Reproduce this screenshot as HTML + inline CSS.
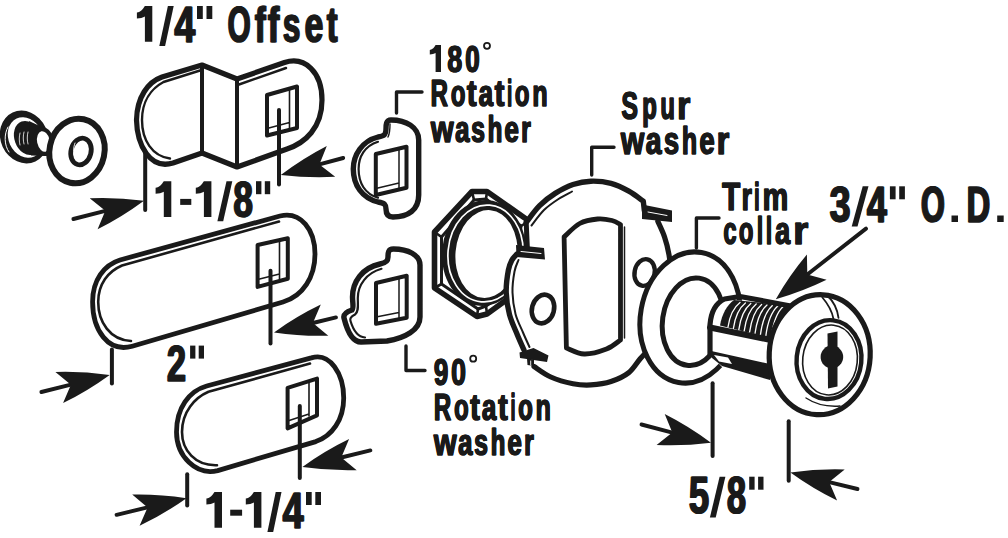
<!DOCTYPE html>
<html><head><meta charset="utf-8"><style>
html,body{margin:0;padding:0;background:#fff;width:1008px;height:538px;overflow:hidden}
svg{display:block}
svg *{fill:none;stroke:#1a1a1a;stroke-linecap:round;stroke-linejoin:round}
svg .f{fill:#1a1a1a;stroke:none}
svg text{fill:#1a1a1a;font-family:"Liberation Sans",sans-serif;font-weight:bold}
</style></head><body>
<svg width="1008" height="538" viewBox="0 0 1008 538">
<path class="f" d="M144.9,6.0 L152.3,6.0 L152.3,41.7 L144.9,41.7 L144.9,16.5 C142.9,17.5 139.9,18.5 136.9,18.5 L136.9,12.5 C140.9,12.0 142.9,9.0 144.9,6.0 Z"/>
<path class="f" d="M167.9,6.0 L173.7,6.0 L165.1,46.1 L159.3,46.1 Z"/>
<text transform="translate(174.00,41.7) scale(0.7451,1)" font-size="50.3" style="stroke:#1a1a1a;stroke-width:1.0px;vector-effect:non-scaling-stroke">4</text>
<text transform="translate(174.80,41.7) scale(0.7451,1)" font-size="50.3" style="stroke:#1a1a1a;stroke-width:1.0px;vector-effect:non-scaling-stroke">4</text>
<path class="f" d="M197.0,6.0 H202.8 V19.0 H197.0 Z"/>
<path class="f" d="M206.5,6.0 H212.3 V19.0 H206.5 Z"/>
<text transform="translate(227.30,41.7) scale(0.5881,1)" font-size="50.3" style="stroke:#1a1a1a;stroke-width:1.0px;vector-effect:non-scaling-stroke">O</text>
<text transform="translate(228.10,41.7) scale(0.5881,1)" font-size="50.3" style="stroke:#1a1a1a;stroke-width:1.0px;vector-effect:non-scaling-stroke">O</text>
<text transform="translate(254.60,41.7) scale(0.6291,1)" font-size="50.3" style="stroke:#1a1a1a;stroke-width:1.0px;vector-effect:non-scaling-stroke">f</text>
<text transform="translate(255.40,41.7) scale(0.6291,1)" font-size="50.3" style="stroke:#1a1a1a;stroke-width:1.0px;vector-effect:non-scaling-stroke">f</text>
<text transform="translate(267.60,41.7) scale(0.6647,1)" font-size="50.3" style="stroke:#1a1a1a;stroke-width:1.0px;vector-effect:non-scaling-stroke">f</text>
<text transform="translate(268.40,41.7) scale(0.6647,1)" font-size="50.3" style="stroke:#1a1a1a;stroke-width:1.0px;vector-effect:non-scaling-stroke">f</text>
<text transform="translate(282.50,41.7) scale(0.6233,1)" font-size="50.3" style="stroke:#1a1a1a;stroke-width:1.0px;vector-effect:non-scaling-stroke">s</text>
<text transform="translate(283.30,41.7) scale(0.6233,1)" font-size="50.3" style="stroke:#1a1a1a;stroke-width:1.0px;vector-effect:non-scaling-stroke">s</text>
<text transform="translate(304.20,41.7) scale(0.6663,1)" font-size="50.3" style="stroke:#1a1a1a;stroke-width:1.0px;vector-effect:non-scaling-stroke">e</text>
<text transform="translate(305.00,41.7) scale(0.6663,1)" font-size="50.3" style="stroke:#1a1a1a;stroke-width:1.0px;vector-effect:non-scaling-stroke">e</text>
<text transform="translate(326.50,41.7) scale(0.6338,1)" font-size="50.3" style="stroke:#1a1a1a;stroke-width:1.0px;vector-effect:non-scaling-stroke">t</text>
<text transform="translate(327.30,41.7) scale(0.6338,1)" font-size="50.3" style="stroke:#1a1a1a;stroke-width:1.0px;vector-effect:non-scaling-stroke">t</text>
<path class="f" d="M163.8,181.2 L171.3,181.2 L171.3,216.9 L163.8,216.9 L163.8,191.7 C161.8,192.7 158.6,193.7 155.6,193.7 L155.6,187.7 C159.6,187.2 161.8,184.2 163.8,181.2 Z"/>
<path class="f" d="M180.2,198.9 H191.3 V204.9 H180.2 Z"/>
<path class="f" d="M203.9,181.2 L211.4,181.2 L211.4,216.9 L203.9,216.9 L203.9,191.7 C201.9,192.7 198.8,193.7 195.8,193.7 L195.8,187.7 C199.8,187.2 201.9,184.2 203.9,181.2 Z"/>
<path class="f" d="M226.5,181.2 L232.3,181.2 L223.2,221.3 L217.4,221.3 Z"/>
<text transform="translate(232.90,216.9) scale(0.6985,1)" font-size="50.3" style="stroke:#1a1a1a;stroke-width:1.0px;vector-effect:non-scaling-stroke">8</text>
<text transform="translate(233.70,216.9) scale(0.6985,1)" font-size="50.3" style="stroke:#1a1a1a;stroke-width:1.0px;vector-effect:non-scaling-stroke">8</text>
<path class="f" d="M256.0,181.2 H261.4 V194.2 H256.0 Z"/>
<path class="f" d="M264.8,181.2 H270.2 V194.2 H264.8 Z"/>
<text transform="translate(166.40,381.3) scale(0.6842,1)" font-size="50.3" style="stroke:#1a1a1a;stroke-width:1.0px;vector-effect:non-scaling-stroke">2</text>
<text transform="translate(167.20,381.3) scale(0.6842,1)" font-size="50.3" style="stroke:#1a1a1a;stroke-width:1.0px;vector-effect:non-scaling-stroke">2</text>
<path class="f" d="M190.1,345.6 H195.4 V358.6 H190.1 Z"/>
<path class="f" d="M198.7,345.6 H204.0 V358.6 H198.7 Z"/>
<path class="f" d="M214.5,492.0 L222.0,492.0 L222.0,527.7 L214.5,527.7 L214.5,502.5 C212.5,503.5 209.4,504.5 206.4,504.5 L206.4,498.5 C210.4,498.0 212.5,495.0 214.5,492.0 Z"/>
<path class="f" d="M230.2,509.7 H242.1 V515.7 H230.2 Z"/>
<path class="f" d="M253.9,492.0 L261.4,492.0 L261.4,527.7 L253.9,527.7 L253.9,502.5 C251.9,503.5 248.8,504.5 245.8,504.5 L245.8,498.5 C249.8,498.0 251.9,495.0 253.9,492.0 Z"/>
<path class="f" d="M275.7,492.0 L281.5,492.0 L273.2,532.1 L267.4,532.1 Z"/>
<text transform="translate(282.20,527.7) scale(0.7487,1)" font-size="50.3" style="stroke:#1a1a1a;stroke-width:1.0px;vector-effect:non-scaling-stroke">4</text>
<text transform="translate(283.00,527.7) scale(0.7487,1)" font-size="50.3" style="stroke:#1a1a1a;stroke-width:1.0px;vector-effect:non-scaling-stroke">4</text>
<path class="f" d="M306.0,492.0 H311.7 V505.0 H306.0 Z"/>
<path class="f" d="M315.3,492.0 H321.0 V505.0 H315.3 Z"/>
<text transform="translate(688.40,513.2) scale(0.7067,1)" font-size="51.5" style="stroke:#1a1a1a;stroke-width:1.0px;vector-effect:non-scaling-stroke">5</text>
<text transform="translate(689.20,513.2) scale(0.7067,1)" font-size="51.5" style="stroke:#1a1a1a;stroke-width:1.0px;vector-effect:non-scaling-stroke">5</text>
<path class="f" d="M719.6,476.7 L725.4,476.7 L715.7,517.6 L709.9,517.6 Z"/>
<text transform="translate(726.40,513.2) scale(0.6682,1)" font-size="51.5" style="stroke:#1a1a1a;stroke-width:1.0px;vector-effect:non-scaling-stroke">8</text>
<text transform="translate(727.20,513.2) scale(0.6682,1)" font-size="51.5" style="stroke:#1a1a1a;stroke-width:1.0px;vector-effect:non-scaling-stroke">8</text>
<path class="f" d="M749.2,476.7 H754.6 V489.7 H749.2 Z"/>
<path class="f" d="M758.1,476.7 H763.5 V489.7 H758.1 Z"/>
<text transform="translate(829.20,222) scale(0.7487,1)" font-size="50.3" style="stroke:#1a1a1a;stroke-width:1.0px;vector-effect:non-scaling-stroke">3</text>
<text transform="translate(830.00,222) scale(0.7487,1)" font-size="50.3" style="stroke:#1a1a1a;stroke-width:1.0px;vector-effect:non-scaling-stroke">3</text>
<path class="f" d="M862.7,186.3 L868.5,186.3 L857.5,226.4 L851.7,226.4 Z"/>
<text transform="translate(866.50,222) scale(0.7128,1)" font-size="50.3" style="stroke:#1a1a1a;stroke-width:1.0px;vector-effect:non-scaling-stroke">4</text>
<text transform="translate(867.30,222) scale(0.7128,1)" font-size="50.3" style="stroke:#1a1a1a;stroke-width:1.0px;vector-effect:non-scaling-stroke">4</text>
<path class="f" d="M889.9,186.3 H895.6 V199.3 H889.9 Z"/>
<path class="f" d="M899.2,186.3 H904.9 V199.3 H899.2 Z"/>
<text transform="translate(920.60,222) scale(0.6060,1)" font-size="50.3" style="stroke:#1a1a1a;stroke-width:1.0px;vector-effect:non-scaling-stroke">O</text>
<text transform="translate(921.40,222) scale(0.6060,1)" font-size="50.3" style="stroke:#1a1a1a;stroke-width:1.0px;vector-effect:non-scaling-stroke">O</text>
<path class="f" d="M951.5,215.5 H958.0 V222.0 H951.5 Z"/>
<text transform="translate(966.30,222) scale(0.6494,1)" font-size="50.3" style="stroke:#1a1a1a;stroke-width:1.0px;vector-effect:non-scaling-stroke">D</text>
<text transform="translate(967.10,222) scale(0.6494,1)" font-size="50.3" style="stroke:#1a1a1a;stroke-width:1.0px;vector-effect:non-scaling-stroke">D</text>
<path class="f" d="M997.2,215.5 H1003.7 V222.0 H997.2 Z"/>
<path class="f" d="M435.6,45.1 L441.0,45.1 L441.0,71.9 L435.6,71.9 L435.6,53.0 C434.1,53.7 432.1,54.5 429.8,54.5 L429.8,50.0 C432.8,49.6 434.1,47.3 435.6,45.1 Z"/>
<text transform="translate(447.20,71.9) scale(0.7130,1)" font-size="37.4" style="stroke:#1a1a1a;stroke-width:1.0px;vector-effect:non-scaling-stroke">8</text>
<text transform="translate(447.50,71.9) scale(0.7130,1)" font-size="37.4" style="stroke:#1a1a1a;stroke-width:1.0px;vector-effect:non-scaling-stroke">8</text>
<text transform="translate(465.10,71.9) scale(0.6937,1)" font-size="37.4" style="stroke:#1a1a1a;stroke-width:1.0px;vector-effect:non-scaling-stroke">0</text>
<text transform="translate(465.40,71.9) scale(0.6937,1)" font-size="37.4" style="stroke:#1a1a1a;stroke-width:1.0px;vector-effect:non-scaling-stroke">0</text>
<text transform="translate(433.80,384.6) scale(0.6937,1)" font-size="37.4" style="stroke:#1a1a1a;stroke-width:1.0px;vector-effect:non-scaling-stroke">9</text>
<text transform="translate(434.10,384.6) scale(0.6937,1)" font-size="37.4" style="stroke:#1a1a1a;stroke-width:1.0px;vector-effect:non-scaling-stroke">9</text>
<text transform="translate(450.90,384.6) scale(0.7130,1)" font-size="37.4" style="stroke:#1a1a1a;stroke-width:1.0px;vector-effect:non-scaling-stroke">0</text>
<text transform="translate(451.20,384.6) scale(0.7130,1)" font-size="37.4" style="stroke:#1a1a1a;stroke-width:1.0px;vector-effect:non-scaling-stroke">0</text>
<text transform="translate(430.50,106.4) scale(0.6615,1)" font-size="36.2" style="stroke:#1a1a1a;stroke-width:1.0px;vector-effect:non-scaling-stroke">R</text>
<text transform="translate(430.80,106.4) scale(0.6615,1)" font-size="36.2" style="stroke:#1a1a1a;stroke-width:1.0px;vector-effect:non-scaling-stroke">R</text>
<text transform="translate(450.70,106.4) scale(0.6566,1)" font-size="36.2" style="stroke:#1a1a1a;stroke-width:1.0px;vector-effect:non-scaling-stroke">o</text>
<text transform="translate(451.00,106.4) scale(0.6566,1)" font-size="36.2" style="stroke:#1a1a1a;stroke-width:1.0px;vector-effect:non-scaling-stroke">o</text>
<text transform="translate(466.70,106.4) scale(0.8059,1)" font-size="36.2" style="stroke:#1a1a1a;stroke-width:1.0px;vector-effect:non-scaling-stroke">t</text>
<text transform="translate(467.00,106.4) scale(0.8059,1)" font-size="36.2" style="stroke:#1a1a1a;stroke-width:1.0px;vector-effect:non-scaling-stroke">t</text>
<text transform="translate(478.50,106.4) scale(0.7170,1)" font-size="36.2" style="stroke:#1a1a1a;stroke-width:1.0px;vector-effect:non-scaling-stroke">a</text>
<text transform="translate(478.80,106.4) scale(0.7170,1)" font-size="36.2" style="stroke:#1a1a1a;stroke-width:1.0px;vector-effect:non-scaling-stroke">a</text>
<text transform="translate(494.60,106.4) scale(0.7976,1)" font-size="36.2" style="stroke:#1a1a1a;stroke-width:1.0px;vector-effect:non-scaling-stroke">t</text>
<text transform="translate(494.90,106.4) scale(0.7976,1)" font-size="36.2" style="stroke:#1a1a1a;stroke-width:1.0px;vector-effect:non-scaling-stroke">t</text>
<text transform="translate(507.10,106.4) scale(0.4778,1)" font-size="36.2" style="stroke:#1a1a1a;stroke-width:1.0px;vector-effect:non-scaling-stroke">i</text>
<text transform="translate(507.40,106.4) scale(0.4778,1)" font-size="36.2" style="stroke:#1a1a1a;stroke-width:1.0px;vector-effect:non-scaling-stroke">i</text>
<text transform="translate(514.80,106.4) scale(0.6566,1)" font-size="36.2" style="stroke:#1a1a1a;stroke-width:1.0px;vector-effect:non-scaling-stroke">o</text>
<text transform="translate(515.10,106.4) scale(0.6566,1)" font-size="36.2" style="stroke:#1a1a1a;stroke-width:1.0px;vector-effect:non-scaling-stroke">o</text>
<text transform="translate(532.20,106.4) scale(0.6883,1)" font-size="36.2" style="stroke:#1a1a1a;stroke-width:1.0px;vector-effect:non-scaling-stroke">n</text>
<text transform="translate(532.50,106.4) scale(0.6883,1)" font-size="36.2" style="stroke:#1a1a1a;stroke-width:1.0px;vector-effect:non-scaling-stroke">n</text>
<text transform="translate(430.65,141.6) scale(0.8059,1)" font-size="36.2" style="stroke:#1a1a1a;stroke-width:1.0px;vector-effect:non-scaling-stroke">w</text>
<text transform="translate(430.95,141.6) scale(0.8059,1)" font-size="36.2" style="stroke:#1a1a1a;stroke-width:1.0px;vector-effect:non-scaling-stroke">w</text>
<text transform="translate(454.90,141.6) scale(0.7121,1)" font-size="36.2" style="stroke:#1a1a1a;stroke-width:1.0px;vector-effect:non-scaling-stroke">a</text>
<text transform="translate(455.20,141.6) scale(0.7121,1)" font-size="36.2" style="stroke:#1a1a1a;stroke-width:1.0px;vector-effect:non-scaling-stroke">a</text>
<text transform="translate(470.90,141.6) scale(0.6869,1)" font-size="36.2" style="stroke:#1a1a1a;stroke-width:1.0px;vector-effect:non-scaling-stroke">s</text>
<text transform="translate(471.20,141.6) scale(0.6869,1)" font-size="36.2" style="stroke:#1a1a1a;stroke-width:1.0px;vector-effect:non-scaling-stroke">s</text>
<text transform="translate(487.60,141.6) scale(0.6566,1)" font-size="36.2" style="stroke:#1a1a1a;stroke-width:1.0px;vector-effect:non-scaling-stroke">h</text>
<text transform="translate(487.90,141.6) scale(0.6566,1)" font-size="36.2" style="stroke:#1a1a1a;stroke-width:1.0px;vector-effect:non-scaling-stroke">h</text>
<text transform="translate(504.30,141.6) scale(0.7217,1)" font-size="36.2" style="stroke:#1a1a1a;stroke-width:1.0px;vector-effect:non-scaling-stroke">e</text>
<text transform="translate(504.60,141.6) scale(0.7217,1)" font-size="36.2" style="stroke:#1a1a1a;stroke-width:1.0px;vector-effect:non-scaling-stroke">e</text>
<text transform="translate(521.00,141.6) scale(0.6871,1)" font-size="36.2" style="stroke:#1a1a1a;stroke-width:1.0px;vector-effect:non-scaling-stroke">r</text>
<text transform="translate(521.30,141.6) scale(0.6871,1)" font-size="36.2" style="stroke:#1a1a1a;stroke-width:1.0px;vector-effect:non-scaling-stroke">r</text>
<text transform="translate(433.80,419.5) scale(0.6615,1)" font-size="36.2" style="stroke:#1a1a1a;stroke-width:1.0px;vector-effect:non-scaling-stroke">R</text>
<text transform="translate(434.10,419.5) scale(0.6615,1)" font-size="36.2" style="stroke:#1a1a1a;stroke-width:1.0px;vector-effect:non-scaling-stroke">R</text>
<text transform="translate(454.00,419.5) scale(0.6566,1)" font-size="36.2" style="stroke:#1a1a1a;stroke-width:1.0px;vector-effect:non-scaling-stroke">o</text>
<text transform="translate(454.30,419.5) scale(0.6566,1)" font-size="36.2" style="stroke:#1a1a1a;stroke-width:1.0px;vector-effect:non-scaling-stroke">o</text>
<text transform="translate(470.00,419.5) scale(0.8059,1)" font-size="36.2" style="stroke:#1a1a1a;stroke-width:1.0px;vector-effect:non-scaling-stroke">t</text>
<text transform="translate(470.30,419.5) scale(0.8059,1)" font-size="36.2" style="stroke:#1a1a1a;stroke-width:1.0px;vector-effect:non-scaling-stroke">t</text>
<text transform="translate(481.80,419.5) scale(0.7170,1)" font-size="36.2" style="stroke:#1a1a1a;stroke-width:1.0px;vector-effect:non-scaling-stroke">a</text>
<text transform="translate(482.10,419.5) scale(0.7170,1)" font-size="36.2" style="stroke:#1a1a1a;stroke-width:1.0px;vector-effect:non-scaling-stroke">a</text>
<text transform="translate(497.90,419.5) scale(0.7976,1)" font-size="36.2" style="stroke:#1a1a1a;stroke-width:1.0px;vector-effect:non-scaling-stroke">t</text>
<text transform="translate(498.20,419.5) scale(0.7976,1)" font-size="36.2" style="stroke:#1a1a1a;stroke-width:1.0px;vector-effect:non-scaling-stroke">t</text>
<text transform="translate(510.40,419.5) scale(0.4778,1)" font-size="36.2" style="stroke:#1a1a1a;stroke-width:1.0px;vector-effect:non-scaling-stroke">i</text>
<text transform="translate(510.70,419.5) scale(0.4778,1)" font-size="36.2" style="stroke:#1a1a1a;stroke-width:1.0px;vector-effect:non-scaling-stroke">i</text>
<text transform="translate(518.10,419.5) scale(0.6566,1)" font-size="36.2" style="stroke:#1a1a1a;stroke-width:1.0px;vector-effect:non-scaling-stroke">o</text>
<text transform="translate(518.40,419.5) scale(0.6566,1)" font-size="36.2" style="stroke:#1a1a1a;stroke-width:1.0px;vector-effect:non-scaling-stroke">o</text>
<text transform="translate(535.50,419.5) scale(0.6883,1)" font-size="36.2" style="stroke:#1a1a1a;stroke-width:1.0px;vector-effect:non-scaling-stroke">n</text>
<text transform="translate(535.80,419.5) scale(0.6883,1)" font-size="36.2" style="stroke:#1a1a1a;stroke-width:1.0px;vector-effect:non-scaling-stroke">n</text>
<text transform="translate(433.65,454.7) scale(0.8059,1)" font-size="36.2" style="stroke:#1a1a1a;stroke-width:1.0px;vector-effect:non-scaling-stroke">w</text>
<text transform="translate(433.95,454.7) scale(0.8059,1)" font-size="36.2" style="stroke:#1a1a1a;stroke-width:1.0px;vector-effect:non-scaling-stroke">w</text>
<text transform="translate(457.90,454.7) scale(0.7121,1)" font-size="36.2" style="stroke:#1a1a1a;stroke-width:1.0px;vector-effect:non-scaling-stroke">a</text>
<text transform="translate(458.20,454.7) scale(0.7121,1)" font-size="36.2" style="stroke:#1a1a1a;stroke-width:1.0px;vector-effect:non-scaling-stroke">a</text>
<text transform="translate(473.90,454.7) scale(0.6869,1)" font-size="36.2" style="stroke:#1a1a1a;stroke-width:1.0px;vector-effect:non-scaling-stroke">s</text>
<text transform="translate(474.20,454.7) scale(0.6869,1)" font-size="36.2" style="stroke:#1a1a1a;stroke-width:1.0px;vector-effect:non-scaling-stroke">s</text>
<text transform="translate(490.60,454.7) scale(0.6566,1)" font-size="36.2" style="stroke:#1a1a1a;stroke-width:1.0px;vector-effect:non-scaling-stroke">h</text>
<text transform="translate(490.90,454.7) scale(0.6566,1)" font-size="36.2" style="stroke:#1a1a1a;stroke-width:1.0px;vector-effect:non-scaling-stroke">h</text>
<text transform="translate(507.30,454.7) scale(0.7217,1)" font-size="36.2" style="stroke:#1a1a1a;stroke-width:1.0px;vector-effect:non-scaling-stroke">e</text>
<text transform="translate(507.60,454.7) scale(0.7217,1)" font-size="36.2" style="stroke:#1a1a1a;stroke-width:1.0px;vector-effect:non-scaling-stroke">e</text>
<text transform="translate(524.00,454.7) scale(0.6871,1)" font-size="36.2" style="stroke:#1a1a1a;stroke-width:1.0px;vector-effect:non-scaling-stroke">r</text>
<text transform="translate(524.30,454.7) scale(0.6871,1)" font-size="36.2" style="stroke:#1a1a1a;stroke-width:1.0px;vector-effect:non-scaling-stroke">r</text>
<text transform="translate(621.20,119.1) scale(0.6264,1)" font-size="39.7" style="stroke:#1a1a1a;stroke-width:1.0px;vector-effect:non-scaling-stroke">S</text>
<text transform="translate(621.50,119.1) scale(0.6264,1)" font-size="39.7" style="stroke:#1a1a1a;stroke-width:1.0px;vector-effect:non-scaling-stroke">S</text>
<text transform="translate(642.10,119.1) scale(0.5988,1)" font-size="39.7" style="stroke:#1a1a1a;stroke-width:1.0px;vector-effect:non-scaling-stroke">p</text>
<text transform="translate(642.40,119.1) scale(0.5988,1)" font-size="39.7" style="stroke:#1a1a1a;stroke-width:1.0px;vector-effect:non-scaling-stroke">p</text>
<text transform="translate(660.20,119.1) scale(0.5988,1)" font-size="39.7" style="stroke:#1a1a1a;stroke-width:1.0px;vector-effect:non-scaling-stroke">u</text>
<text transform="translate(660.50,119.1) scale(0.5988,1)" font-size="39.7" style="stroke:#1a1a1a;stroke-width:1.0px;vector-effect:non-scaling-stroke">u</text>
<text transform="translate(676.90,119.1) scale(0.8525,1)" font-size="39.7" style="stroke:#1a1a1a;stroke-width:1.0px;vector-effect:non-scaling-stroke">r</text>
<text transform="translate(677.20,119.1) scale(0.8525,1)" font-size="39.7" style="stroke:#1a1a1a;stroke-width:1.0px;vector-effect:non-scaling-stroke">r</text>
<text transform="translate(620.65,154) scale(0.7573,1)" font-size="39.7" style="stroke:#1a1a1a;stroke-width:1.0px;vector-effect:non-scaling-stroke">w</text>
<text transform="translate(620.95,154) scale(0.7573,1)" font-size="39.7" style="stroke:#1a1a1a;stroke-width:1.0px;vector-effect:non-scaling-stroke">w</text>
<text transform="translate(645.60,154) scale(0.7120,1)" font-size="39.7" style="stroke:#1a1a1a;stroke-width:1.0px;vector-effect:non-scaling-stroke">a</text>
<text transform="translate(645.90,154) scale(0.7120,1)" font-size="39.7" style="stroke:#1a1a1a;stroke-width:1.0px;vector-effect:non-scaling-stroke">a</text>
<text transform="translate(663.70,154) scale(0.6899,1)" font-size="39.7" style="stroke:#1a1a1a;stroke-width:1.0px;vector-effect:non-scaling-stroke">s</text>
<text transform="translate(664.00,154) scale(0.6899,1)" font-size="39.7" style="stroke:#1a1a1a;stroke-width:1.0px;vector-effect:non-scaling-stroke">s</text>
<text transform="translate(681.80,154) scale(0.6277,1)" font-size="39.7" style="stroke:#1a1a1a;stroke-width:1.0px;vector-effect:non-scaling-stroke">h</text>
<text transform="translate(682.10,154) scale(0.6277,1)" font-size="39.7" style="stroke:#1a1a1a;stroke-width:1.0px;vector-effect:non-scaling-stroke">h</text>
<text transform="translate(699.20,154) scale(0.6944,1)" font-size="39.7" style="stroke:#1a1a1a;stroke-width:1.0px;vector-effect:non-scaling-stroke">e</text>
<text transform="translate(699.50,154) scale(0.6944,1)" font-size="39.7" style="stroke:#1a1a1a;stroke-width:1.0px;vector-effect:non-scaling-stroke">e</text>
<text transform="translate(716.60,154) scale(0.8073,1)" font-size="39.7" style="stroke:#1a1a1a;stroke-width:1.0px;vector-effect:non-scaling-stroke">r</text>
<text transform="translate(716.90,154) scale(0.8073,1)" font-size="39.7" style="stroke:#1a1a1a;stroke-width:1.0px;vector-effect:non-scaling-stroke">r</text>
<text transform="translate(721.90,209.6) scale(0.7474,1)" font-size="39.7" style="stroke:#1a1a1a;stroke-width:1.0px;vector-effect:non-scaling-stroke">T</text>
<text transform="translate(722.20,209.6) scale(0.7474,1)" font-size="39.7" style="stroke:#1a1a1a;stroke-width:1.0px;vector-effect:non-scaling-stroke">T</text>
<text transform="translate(741.50,209.6) scale(0.6652,1)" font-size="39.7" style="stroke:#1a1a1a;stroke-width:1.0px;vector-effect:non-scaling-stroke">r</text>
<text transform="translate(741.80,209.6) scale(0.6652,1)" font-size="39.7" style="stroke:#1a1a1a;stroke-width:1.0px;vector-effect:non-scaling-stroke">r</text>
<text transform="translate(754.00,209.6) scale(0.4992,1)" font-size="39.7" style="stroke:#1a1a1a;stroke-width:1.0px;vector-effect:non-scaling-stroke">i</text>
<text transform="translate(754.30,209.6) scale(0.4992,1)" font-size="39.7" style="stroke:#1a1a1a;stroke-width:1.0px;vector-effect:non-scaling-stroke">i</text>
<text transform="translate(762.40,209.6) scale(0.7245,1)" font-size="39.7" style="stroke:#1a1a1a;stroke-width:1.0px;vector-effect:non-scaling-stroke">m</text>
<text transform="translate(762.70,209.6) scale(0.7245,1)" font-size="39.7" style="stroke:#1a1a1a;stroke-width:1.0px;vector-effect:non-scaling-stroke">m</text>
<text transform="translate(723.30,244) scale(0.5991,1)" font-size="39.7" style="stroke:#1a1a1a;stroke-width:1.0px;vector-effect:non-scaling-stroke">c</text>
<text transform="translate(723.60,244) scale(0.5991,1)" font-size="39.7" style="stroke:#1a1a1a;stroke-width:1.0px;vector-effect:non-scaling-stroke">c</text>
<text transform="translate(738.70,244) scale(0.5988,1)" font-size="39.7" style="stroke:#1a1a1a;stroke-width:1.0px;vector-effect:non-scaling-stroke">o</text>
<text transform="translate(739.00,244) scale(0.5988,1)" font-size="39.7" style="stroke:#1a1a1a;stroke-width:1.0px;vector-effect:non-scaling-stroke">o</text>
<text transform="translate(756.80,244) scale(0.5628,1)" font-size="39.7" style="stroke:#1a1a1a;stroke-width:1.0px;vector-effect:non-scaling-stroke">l</text>
<text transform="translate(757.10,244) scale(0.5628,1)" font-size="39.7" style="stroke:#1a1a1a;stroke-width:1.0px;vector-effect:non-scaling-stroke">l</text>
<text transform="translate(765.80,244) scale(0.5628,1)" font-size="39.7" style="stroke:#1a1a1a;stroke-width:1.0px;vector-effect:non-scaling-stroke">l</text>
<text transform="translate(766.10,244) scale(0.5628,1)" font-size="39.7" style="stroke:#1a1a1a;stroke-width:1.0px;vector-effect:non-scaling-stroke">l</text>
<text transform="translate(774.90,244) scale(0.6807,1)" font-size="39.7" style="stroke:#1a1a1a;stroke-width:1.0px;vector-effect:non-scaling-stroke">a</text>
<text transform="translate(775.20,244) scale(0.6807,1)" font-size="39.7" style="stroke:#1a1a1a;stroke-width:1.0px;vector-effect:non-scaling-stroke">a</text>
<text transform="translate(793.00,244) scale(0.9817,1)" font-size="39.7" style="stroke:#1a1a1a;stroke-width:1.0px;vector-effect:non-scaling-stroke">r</text>
<text transform="translate(793.30,244) scale(0.9817,1)" font-size="39.7" style="stroke:#1a1a1a;stroke-width:1.0px;vector-effect:non-scaling-stroke">r</text>
<circle cx="487" cy="45.8" r="3" stroke-width="1.8"/>
<circle cx="473.2" cy="358.7" r="3" stroke-width="1.8"/>
<path d="M396.5,113 V92 H422" stroke-width="3.4" />
<path d="M406,346 V370.5 H425" stroke-width="3.4" />
<path d="M591.7,175 V147.3 H614" stroke-width="3.4" />
<path d="M696.4,248 V218 H719" stroke-width="3.4" />
<ellipse class="f" cx="24" cy="137" rx="23.5" ry="27" transform="rotate(-25 24 137)"/>
<ellipse cx="25.5" cy="137.5" rx="17" ry="21" transform="rotate(-25 25.5 137.5)" stroke-width="0" style="fill:#fff;stroke:none"/>
<ellipse class="f" cx="27.5" cy="138" rx="13" ry="17.5" transform="rotate(-20 27.5 138)"/>
<path class="f" d="M29,121 L44,128 L47,156 L31,155.5 Z"/>
<ellipse cx="43.5" cy="141.5" rx="8.5" ry="12.5" transform="rotate(-12 43.5 141.5)" stroke-width="4.2" style="fill:#fff"/>
<path d="M8,127 C4,134 4,145 9,152" stroke-width="1" style="stroke:#fff"/>
<path d="M20,133 C19,137 19,141 20,145 M24,132 C23,136 23,140 24,144 M28,132 C27,136 27,140 28,144" stroke-width="0.8" style="stroke:#fff"/>
<ellipse cx="77" cy="151" rx="27.5" ry="32.5" transform="rotate(12 77 151)" stroke-width="6" style="fill:#fff"/>
<ellipse cx="81" cy="151.5" rx="10" ry="13.5" transform="rotate(15 81 151.5)" stroke-width="4.8"/>
<path d="M75,143 C73,148 73,155 76,160" stroke-width="0.9" style="stroke:#fff"/>
<path d="M202,65 L237,79 L284.5,62.5 C305,56 322,72 322,100 C322,128 305,143 287,149 L237,167 L202,153 L173,163 C150,170 137,145 136.5,120 C137,97 148,82 162,77 Z" stroke-width="5.2" />
<path d="M200,70.5 L163.5,82 C151.5,88.5 142,101 142,120 C142,140 152,156 170,158.5" stroke-width="2.4" />
<path d="M239,84.5 L286,68" stroke-width="2.4" />
<line x1="202" y1="65" x2="202" y2="153" stroke-width="4.0"/>
<line x1="237" y1="79" x2="237" y2="167" stroke-width="4.0"/>
<path d="M267,95 L297,86.5 L297,128 L267,135.5 Z" stroke-width="4" />
<path d="M289.5,89 V128 M267,128.5 L289.5,122.5" stroke-width="1.6" />
<line x1="279" y1="110" x2="279" y2="184.6" stroke-width="4.0"/>
<line x1="145.2" y1="153" x2="145.2" y2="209.9" stroke-width="4.0"/>
<line x1="343.2" y1="158.0" x2="319.4" y2="164.4" stroke-width="3.9"/>
<path class="f" d="M280.8,174.9 Q303.2,158.0 326.8,145.9 L319.4,164.4 L335.2,176.8 Q308.6,178.2 280.8,174.9 Z"/>
<line x1="73.4" y1="219.0" x2="105.3" y2="210.8" stroke-width="3.9"/>
<path class="f" d="M144.0,200.8 Q121.4,217.5 97.6,229.3 L105.3,210.8 L89.7,198.3 Q116.2,197.1 144.0,200.8 Z"/>
<path d="M120,260 L280,216 C301,211 315,230 315,254 C315,277 303,296 283,302 L132.2,346.2 C108,353 92.6,330 92.6,301.7 C92.6,280 104,265 120,260 Z" stroke-width="4.8" />
<path d="M279,221.5 L122,265.5 C108,271.5 98.2,284 98.2,302 C98.2,322 110,340 131,341" stroke-width="2.6" />
<path d="M257.6,245 L287.8,238.3 L287.8,278.8 L257.6,286.9 Z" stroke-width="4" />
<path d="M279.5,240.5 V279 M257.6,279.5 L279.5,274" stroke-width="1.6" />
<line x1="270.5" y1="270.7" x2="270.5" y2="343.5" stroke-width="4.0"/>
<line x1="111.9" y1="349.5" x2="111.9" y2="383.6" stroke-width="4.0"/>
<line x1="336.0" y1="317.4" x2="312.9" y2="323.0" stroke-width="3.9"/>
<path class="f" d="M274.0,332.4 Q296.8,316.1 320.8,304.6 L312.9,323.0 L328.3,335.7 Q301.7,336.5 274.0,332.4 Z"/>
<line x1="41.4" y1="392.0" x2="70.9" y2="384.7" stroke-width="3.9"/>
<path class="f" d="M109.7,375.0 Q87.0,391.5 63.1,403.1 L70.9,384.7 L55.4,372.0 Q81.9,371.1 109.7,375.0 Z"/>
<path d="M206.7,386 L311.3,357.9 C330,352 343.7,374 343.7,398 C343.7,420 332,436 315.8,441.6 L217.7,470.6 C196,476 176.5,456 176.5,432 C176.5,408 189,391 206.7,386 Z" stroke-width="4.8" />
<path d="M310,363.5 L208.5,391.8 C195,397.5 182,412 182,432 C182,450 195,466 217,465.2" stroke-width="2.6" />
<path d="M287.6,387.8 L317,378.6 L317,415.4 L287.6,428.3 Z" stroke-width="4" />
<path d="M309,381 V416 M287.6,421 L309,414" stroke-width="1.6" />
<line x1="299.8" y1="406" x2="299.8" y2="478" stroke-width="4.0"/>
<line x1="187.2" y1="474.3" x2="187.2" y2="505.6" stroke-width="4.0"/>
<line x1="370.4" y1="450.4" x2="341.3" y2="457.5" stroke-width="3.9"/>
<path class="f" d="M302.4,467.0 Q325.2,450.6 349.1,439.1 L341.3,457.5 L356.7,470.2 Q330.1,471.0 302.4,467.0 Z"/>
<line x1="116.6" y1="514.8" x2="147.6" y2="507.4" stroke-width="3.9"/>
<path class="f" d="M186.5,498.2 Q163.6,514.4 139.6,525.8 L147.6,507.4 L132.2,494.6 Q158.8,494.0 186.5,498.2 Z"/>
<path d="M391,120 C386,120 386,125 386,129 C386,134 385,136 378,137 C362,141 353.3,155 353.3,169 C353.3,185 362,198 378,202 C385,203 386,205 386,209 C386,214 388,217 393,217 C408,217 418.7,210 418.7,195 L418.7,140 C418.7,127 406,120 391,120 Z" stroke-width="5.4" />
<path d="M378,141.8 C364.5,146 358.6,157 358.6,169 C358.6,183 365,194 378,197.8" stroke-width="2.2" />
<path d="M390,124 C390,129 390,133 388,137" stroke-width="1.4" />
<path d="M375.8,154 L406.5,146.8 L406.5,187.7 L375.8,195 Z" stroke-width="4" />
<path d="M399,149 V188.5 M375.8,188.5 L399,183" stroke-width="1.5" />
<path d="M393.4,249 C388,249 388,253 388,257 C388,261 386,263 380,264 C362,268 352.5,282 352.5,297 C352.5,303 354,308 352,310 C346,312 343,314 344,318 C347,330 352,342 361,342 L387,341 C405,338 420,330 420,317 L420,265 C420,255 408,249 393.4,249 Z" stroke-width="5.4" />
<path d="M381.5,268.8 C366.5,273 357.8,285 357.8,298 C357.8,305 359,311.5 355,314.5 C351,316.5 349.5,318.5 350.5,321 C353.5,331 357.5,337 365,337.5" stroke-width="2.2" />
<path d="M376,283 L406.7,275.8 L406.7,317.7 L376,323.8 Z" stroke-width="4" />
<path d="M399,278 V318.5 M376,317 L399,312.5" stroke-width="1.5" />
<path d="M472,191.5 L487,191.5 L529,221 L520,290 L487,314 L477,316.5 L434.5,288 L434.5,232 Z" stroke-width="5.6" />
<path d="M474,200 L486,199 L521,226 L514,288 L486,306 L478,309 L441.5,284 L441.5,237 Z" stroke-width="3.0" />
<path d="M472,191.5 L474,200 M487,191.5 L486,199 M529,221 L521,226 M520,290 L514,288 M487,314 L486,306 M477,316.5 L478,309 M434.5,288 L441.5,284 M434.5,232 L441.5,237" stroke-width="2.6" />
<ellipse cx="484" cy="253" rx="42" ry="53" transform="rotate(5 484 253)" stroke-width="0" style="fill:#1a1a1a;stroke:none"/>
<ellipse cx="485.5" cy="253.5" rx="37.5" ry="48.5" transform="rotate(5 485.5 253.5)" stroke-width="1.7" style="stroke:#fff"/>
<ellipse cx="486.5" cy="254" rx="31" ry="44" transform="rotate(5 486.5 254)" stroke-width="0" style="fill:#fff;stroke:none"/>
<path d="M526.2,222.4 C528.2,215.7 534.8,210.5 539.6,205.7 C544.4,200.9 549.6,196.9 555.2,193.4 C560.8,189.9 567.0,186.5 573,184.5 C579.0,182.5 584.6,181.4 590.9,181.2 C597.2,181.0 604.7,181.7 611,183.4 C617.3,185.1 623.4,188.2 628.8,191.2 C634.2,194.2 640.7,197.8 643.3,201.2 C645.9,204.5 642.0,208.0 644.4,211.3 C646.8,214.7 654.4,217.0 657.8,221.3 C661.1,225.6 662.6,231.3 664.5,236.9 C666.4,242.5 667.9,248.3 669,254.7 C670.1,261.1 671.0,267.4 671,275 C671.0,282.6 670.3,291.7 669,300 C667.7,308.3 665.8,317.5 663,325 C660.2,332.5 655.8,339.3 652,345 C648.2,350.7 643.9,354.4 640,359 C636.1,363.6 633.6,368.9 628.8,372.6 C624.0,376.4 617.3,379.4 611,381.5 C604.7,383.6 597.2,384.5 590.9,384.9 C584.6,385.3 579.7,385.0 573,383.7 C566.3,382.4 557.3,379.9 550.8,377 C544.3,374.1 538.5,371.0 534,366.5 C529.5,362.0 526.8,355.3 524,350 C521.2,344.7 519.7,340.6 517.3,334.7 C514.9,328.8 511.4,321.7 509.5,314.6 C507.6,307.5 506.4,299.7 506.2,292.3 C506.0,284.9 507.4,275.4 508.4,270 C509.4,264.6 510.6,262.7 512,260 C513.4,257.3 514.5,256.4 517,254 C519.5,251.6 525.8,251.1 527.3,245.8 C528.8,240.5 524.2,229.1 526.2,222.4 Z" style="fill:#fff;stroke:none"/>
<path d="M526.2,222.4 C528.4,219.6 534.8,210.5 539.6,205.7 C544.4,200.9 549.6,196.9 555.2,193.4 C560.8,189.9 567.0,186.5 573,184.5 C579.0,182.5 584.6,181.4 590.9,181.2 C597.2,181.0 604.7,181.7 611,183.4 C617.3,185.1 623.4,188.2 628.8,191.2 C634.2,194.2 640.9,199.5 643.3,201.2 L644.4,211" stroke-width="5.4" />
<path d="M531.5,225.5 C533.6,222.9 539.5,214.4 544,210 C548.5,205.6 553.8,202.1 558.5,199 C563.2,195.9 569.8,192.8 572,191.5" stroke-width="2.0" />
<path d="M526.2,222.4 L527.3,247" stroke-width="5" />
<path d="M657.8,221.3 C658.9,223.9 662.6,231.3 664.5,236.9 C666.4,242.5 667.9,248.3 669,254.7 C670.1,261.1 671.0,267.4 671,275 C671.0,282.6 670.3,291.7 669,300 C667.7,308.3 665.8,317.5 663,325 C660.2,332.5 655.8,339.3 652,345 C648.2,350.7 643.9,354.4 640,359 C636.1,363.6 633.6,368.9 628.8,372.6 C624.0,376.4 617.3,379.4 611,381.5 C604.7,383.6 597.2,384.5 590.9,384.9 C584.6,385.3 579.7,385.0 573,383.7 C566.3,382.4 557.3,379.9 550.8,377 C544.3,374.1 536.8,368.2 534,366.5" stroke-width="5.2" />
<path d="M524,350 C522.9,347.4 519.7,340.6 517.3,334.7 C514.9,328.8 511.4,321.7 509.5,314.6 C507.6,307.5 506.4,299.7 506.2,292.3 C506.0,284.9 507.4,275.4 508.4,270 C509.4,264.6 510.6,262.7 512,260 C513.4,257.3 516.2,255.0 517,254" stroke-width="5.4" />
<path d="M529.5,347 C528.4,344.6 525.3,338.0 523,332.5 C520.7,327.0 517.2,320.7 515.5,314 C513.8,307.3 512.7,299.6 512.5,292.5 C512.3,285.4 513.5,276.9 514.5,271.5 C515.5,266.1 517.8,261.9 518.5,260" stroke-width="2.0" />
<path class="f" d="M516,245 L544,248 L545,259.5 L516.5,257 Z"/>
<path d="M521,251.5 L541,253.5" stroke-width="1.0" style="stroke:#fff"/>
<path class="f" d="M642,204.5 L672,210.5 L672,222 L642,219 Z"/>
<path d="M648,212 L667,215.5" stroke-width="1.0" style="stroke:#fff"/>
<path class="f" d="M519.5,352.5 L533.5,348 L548.5,355.5 L547,362 L520,358 Z"/>
<path class="f" d="M527,358.5 L534,359.5 L534,366 L527.5,365 Z"/>
<path d="M530.7,361 L530.7,365" stroke-width="0.9" style="stroke:#fff"/>
<path d="M564.1,236.9 C566.7,234.7 574.1,226.5 579.7,223.5 C585.3,220.5 592.2,219.5 597.6,219 C603.0,218.5 608.2,219.6 612,220.5 C615.8,221.4 619.1,223.9 620.5,224.6 L620.5,340  C618.2,341.5 612.5,346.7 606.5,349 C600.5,351.3 590.9,354.2 584.2,354 C577.5,353.8 569.4,349.0 566.4,348 Z" stroke-width="4.8" />
<line x1="624.5" y1="227" x2="624.5" y2="338" stroke-width="1.5"/>
<ellipse cx="543" cy="309" rx="11" ry="14.5" transform="rotate(15 543 309)" stroke-width="4.6"/>
<ellipse cx="644.6" cy="272.5" rx="10" ry="13.5" transform="rotate(12 644.6 272.5)" stroke-width="4.4"/>
<ellipse cx="690" cy="317.5" rx="49.5" ry="66" transform="rotate(10 690 317.5)" stroke-width="5" style="fill:#fff"/>
<ellipse cx="693" cy="321.7" rx="30.5" ry="44" transform="rotate(8 693 321.7)" stroke-width="5"/>
<path d="M724.5,299 L789.3,305.7 L790,385 L722,367 L710,354 L710,324.6 C711,312 716,303 724.5,299 Z" style="fill:#fff;stroke:none"/>
<path class="f" d="M734,300 L789.3,305.7 L789,340 L773.7,339 L720,325.5 C722,314 727,305 734,300 Z"/>
<path d="M728.0,327.0 C729.5,317.0 733.0,308.0 740.0,302.5 M733.4,328.3 C734.9,318.1 738.4,308.6 745.4,303.0 M738.8,329.6 C740.3,319.2 743.8,309.2 750.8,303.5 M744.2,330.9 C745.7,320.3 749.2,309.8 756.2,304.0 M749.6,332.2 C751.1,321.4 754.6,310.4 761.6,304.5 M755.0,333.5 C756.5,322.5 760.0,311.0 767.0,305.0 M760.4,334.8 C761.9,323.6 765.4,311.6 772.4,305.5 M765.8,336.1 C767.3,324.7 770.8,312.2 777.8,306.0 M771.2,337.4 C772.7,325.8 776.2,312.8 783.2,306.5 M776.6,338.7 C778.1,326.9 781.6,313.4 788.6,307.0" stroke-width="1.3" style="stroke:#fff"/>
<path d="M710,354 L710,324.6 C711,312 716,303 724.5,299 L740,296.5 L789.3,305.7" stroke-width="5.2" />
<path d="M710,327.5 L771,340" stroke-width="6" />
<path class="f" d="M709,350.5 L770,364 L770,380 L722,366 L712,358 Z"/>
<path d="M714,355 L728,357.5 L732,364 L719,361.5 Z" style="fill:#fff;stroke:none"/>
<ellipse cx="819.7" cy="354.7" rx="50.5" ry="60" transform="rotate(3 819.7 354.7)" stroke-width="5.2" style="fill:#fff"/>
<ellipse cx="829" cy="359.6" rx="32.4" ry="39.5" transform="rotate(6 829 359.6)" stroke-width="4.4"/>
<ellipse cx="830" cy="360" rx="27.3" ry="35" transform="rotate(6 830 360)" stroke-width="1.6"/>
<path d="M822.4,297.5 C828,304 832,311 833.5,319 M827.8,296 C834,302 837.5,310 838.5,317.8" stroke-width="1.8" />
<path d="M806,398 C815,404 826,407 840,406" stroke-width="1.4" />
<circle class="f" cx="831.9" cy="356.9" r="11.3"/>
<path class="f" d="M827.5,333.5 L837.5,331.5 L837.5,386.5 L828,388.5 Z"/>
<line x1="866.0" y1="228.6" x2="807.3" y2="274.5" stroke-width="3.9"/>
<path class="f" d="M775.8,299.2 Q789.8,274.9 806.9,254.6 L807.3,274.5 L826.6,279.7 Q802.7,291.4 775.8,299.2 Z"/>
<line x1="712.6" y1="383.2" x2="712.6" y2="456" stroke-width="4.0"/>
<line x1="788.7" y1="421.2" x2="788.7" y2="480.7" stroke-width="4.0"/>
<line x1="641.5" y1="424.5" x2="672.3" y2="432.6" stroke-width="3.9"/>
<path class="f" d="M711.0,442.7 Q683.2,446.3 656.6,445.0 L672.3,432.6 L664.7,414.0 Q688.5,426.0 711.0,442.7 Z"/>
<line x1="857.5" y1="489.0" x2="829.2" y2="482.1" stroke-width="3.9"/>
<path class="f" d="M790.4,472.5 Q818.2,468.5 844.7,469.4 L829.2,482.1 L837.1,500.5 Q813.1,488.9 790.4,472.5 Z"/>
</svg>
</body></html>
